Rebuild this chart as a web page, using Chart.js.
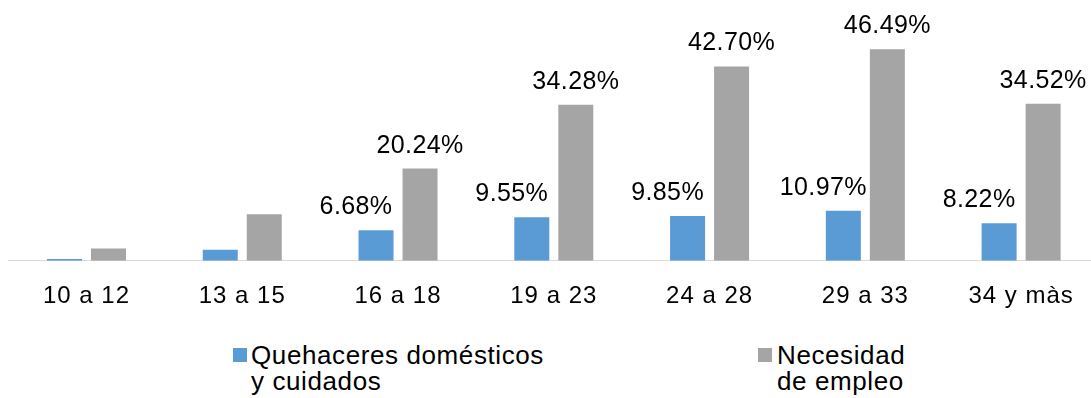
<!DOCTYPE html>
<html>
<head>
<meta charset="utf-8">
<script src="https://cdn.jsdelivr.net/npm/chart.js@4/dist/chart.umd.min.js"></script>
<style>
  html, body { margin: 0; padding: 0; background: #fff; overflow: hidden; }
  body { width: 1091px; height: 398px; position: relative; font-family: "Liberation Sans", Arial, sans-serif; }
  #wrap { position: absolute; left: 0; top: 0; width: 1100px; height: 320px; }
  .legend-item { position: absolute; top: 342px; font-size: 26px; line-height: 26px; letter-spacing: 0.6px; color: #000; }
  .legend-item .box { position: absolute; top: 6px; width: 14px; height: 14px; }
  .legend-item .txt { position: absolute; white-space: nowrap; }
</style>
</head>
<body>
<div id="wrap"><canvas id="chart"></canvas></div>
<div class="legend-item" style="left:233px">
  <div class="box" style="left:0;background:#5b9bd5"></div>
  <div class="txt" style="left:18px">Quehaceres domésticos<br>y cuidados</div>
</div>
<div class="legend-item" style="left:758px">
  <div class="box" style="left:0;background:#a5a5a5"></div>
  <div class="txt" style="left:19px">Necesidad<br>de empleo</div>
</div>
<script>
const categories = ["10 a 12", "13 a 15", "16 a 18", "19 a 23", "24 a 28", "29 a 33", "34 y màs"];
const quehaceres = [0.4, 2.4, 6.68, 9.55, 9.85, 10.97, 8.22];
const necesidad = [2.7, 10.2, 20.24, 34.28, 42.70, 46.49, 34.52];
// the two youngest groups carry no value label
const unlabeled = ["10 a 12", "13 a 15"];

const BLUE = "#5b9bd5";
const GRAY = "#a5a5a5";
const FONT = "Liberation Sans, Arial, sans-serif";

// slightly wider text spacing for the category labels
const tickSpacing = {
  id: "tickSpacing",
  beforeDraw(chart) { chart.ctx.letterSpacing = "1px"; },
  afterDraw(chart) { chart.ctx.letterSpacing = "0px"; },
};

// value labels above the bars; blue ones sit a little to the left
const valueLabels = {
  id: "valueLabels",
  afterDatasetsDraw(chart) {
    const ctx = chart.ctx;
    ctx.save();
    ctx.letterSpacing = "0.4px";
    ctx.font = "25px " + FONT;
    ctx.fillStyle = "#000";
    ctx.textAlign = "center";
    ctx.textBaseline = "alphabetic";
    chart.data.datasets.forEach((ds, di) => {
      const meta = chart.getDatasetMeta(di);
      meta.data.forEach((bar, i) => {
        if (unlabeled.includes(categories[i])) return;
        const shift = di === 0 ? -20 : 0;
        ctx.fillText(ds.data[i].toFixed(2) + "%", bar.x + shift, bar.y - 16);
      });
    });
    ctx.restore();
  },
};

new Chart(document.getElementById("chart"), {
  type: "bar",
  data: {
    labels: categories,
    datasets: [
      { label: "Quehaceres domésticos y cuidados", data: quehaceres, backgroundColor: BLUE },
      { label: "Necesidad de empleo", data: necesidad, backgroundColor: GRAY },
    ],
  },
  options: {
    responsive: true,
    maintainAspectRatio: false,
    animation: false,
    categoryPercentage: 0.565,
    barPercentage: 0.795,
    layout: { padding: { left: 8.6, right: 1, top: 0, bottom: 0 } },
    plugins: {
      legend: { display: false },
      tooltip: { enabled: false },
    },
    scales: {
      x: {
        grid: { display: false, drawTicks: false },
        border: { display: true, color: "#d9d9d9", width: 1 },
        ticks: { color: "#000", font: { size: 24, family: FONT }, padding: 21, maxRotation: 0 },
        afterFit: (scale) => { scale.height = 59.3; },
      },
      y: {
        display: false,
        min: 0,
        max: 57.3,
      },
    },
  },
  plugins: [tickSpacing, valueLabels],
});
</script>
</body>
</html>
